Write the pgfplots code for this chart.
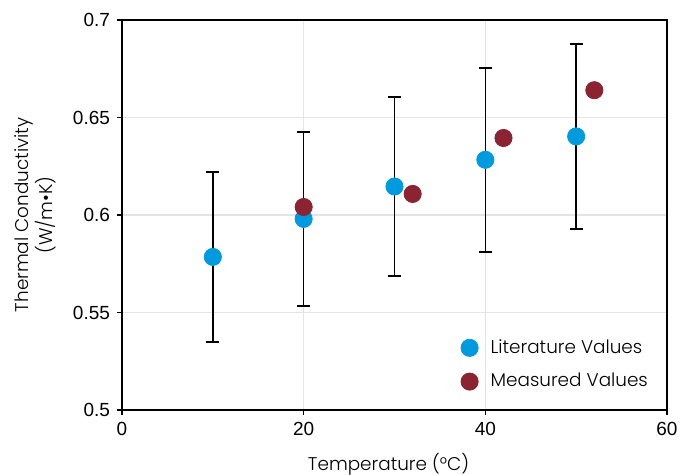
\documentclass[border=0pt]{standalone}
\usepackage{pgfplots}
\pgfplotsset{compat=1.18}
\usepackage{fontspec}
\setmainfont{Poppins}[UprightFont={* Light}]
\newfontfamily\tickfont{Liberation Sans}
\definecolor{litc}{RGB}{0,155,222}
\definecolor{measc}{RGB}{139,35,50}
\definecolor{gridc}{RGB}{228,228,228}

\begin{document}
\begin{tikzpicture}
\begin{axis}[
  at={(0,0)},anchor=south west,
  scale only axis,
  width=272.5pt,height=195pt,
  xmin=0,xmax=60,ymin=0.5,ymax=0.7,
  xtick={0,20,40,60},ytick={0.5,0.55,0.6,0.65,0.7},
  yticklabels={0.5,0.55,0.6,0.65,0.7},
  xmajorgrids,ymajorgrids,grid style={gridc,line width=0.8pt},
  axis line style={black,line width=0.9pt},
  tick style={black,line width=0.8pt},
  tick align=outside,major tick length=2.5pt,
  xtick pos=bottom,ytick pos=left,
  ticklabel style={font=\tickfont\fontsize{9.5}{11}\selectfont},
  /pgf/number format/assume math mode=true,
  xlabel={Temperature (°C)},
  xlabel style={font=\fontsize{9.2}{11}\selectfont,yshift=-2pt,xshift=-3pt},
  ylabel={Thermal Conductivity\\(W/m•K)},
  ylabel style={font=\fontsize{9.2}{11}\selectfont,align=center,yshift=1.5pt},
  legend style={at={(0.984,0.03)},anchor=south east,draw=none,fill=none,
    font=\fontsize{9.2}{11}\selectfont,row sep=4.5pt},
  legend image code/.code={
    \path[draw=none,fill=none] (0cm,-0.15cm) rectangle (0.6cm,0.15cm);
    \draw[#1] plot coordinates {(0.3cm,0cm)};},
  legend cell align=left,
]
  \addplot[only marks,mark=*,mark size=4.3pt,color=litc,
    error bars/.cd,y dir=both,y explicit,
    error bar style={black,line width=0.8pt},
    error mark options={black,line width=0.8pt,mark size=3.3pt,rotate=90}]
    table[x=x,y=y,y error=e] {
    x  y      e
    10 0.5785 0.0435
    20 0.598  0.0447
    30 0.6146 0.046
    40 0.6283 0.0472
    50 0.6403 0.0475
  };
  \addlegendentry{Literature Values}
  \addplot[only marks,mark=*,mark size=4.3pt,color=measc]
    table {
    x  y
    20 0.6041
    32 0.6108
    42 0.6395
    52 0.664
  };
  \addlegendentry{Measured Values}
\end{axis}
\pgfresetboundingbox
\path[use as bounding box] (-61pt,-32.5pt) rectangle (284.5pt,205pt);
\end{tikzpicture}
\end{document}
